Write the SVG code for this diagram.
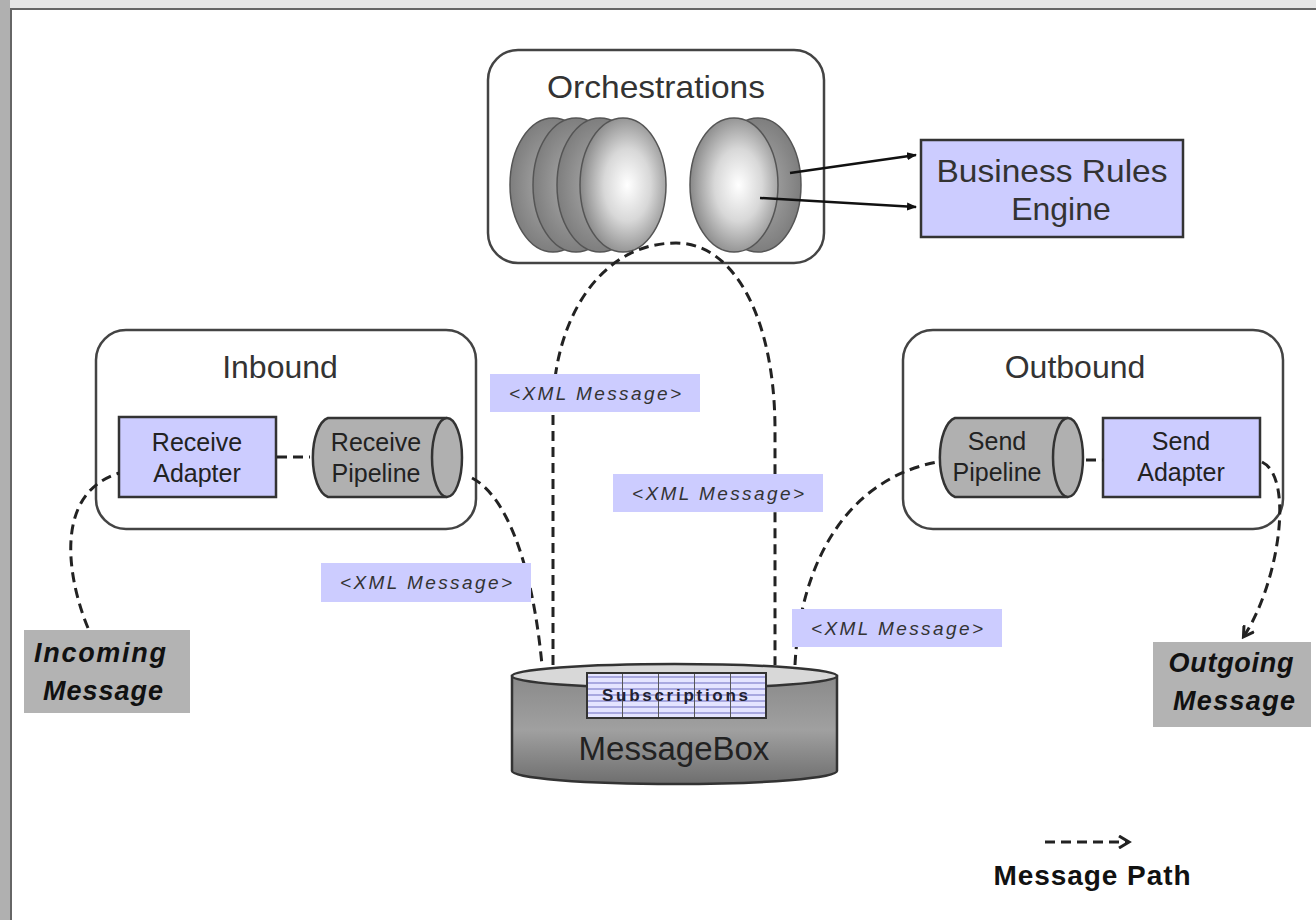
<svg xmlns="http://www.w3.org/2000/svg" width="1316" height="920" viewBox="0 0 1316 920">
  <defs>
    <radialGradient id="discFront" cx="0.55" cy="0.5" r="0.6">
      <stop offset="0" stop-color="#ffffff"/>
      <stop offset="0.45" stop-color="#d8d8d8"/>
      <stop offset="1" stop-color="#7a7a7a"/>
    </radialGradient>
    <radialGradient id="discBack" cx="0.5" cy="0.5" r="0.6">
      <stop offset="0" stop-color="#b0b0b0"/>
      <stop offset="1" stop-color="#747474"/>
    </radialGradient>
    <linearGradient id="boxBody" x1="0" y1="0" x2="0" y2="1">
      <stop offset="0" stop-color="#8a8a8a"/>
      <stop offset="0.5" stop-color="#a0a0a0"/>
      <stop offset="1" stop-color="#6e6e6e"/>
    </linearGradient>
    <pattern id="grid" x="587" y="673" width="36" height="6" patternUnits="userSpaceOnUse">
      <rect width="36" height="6" fill="#e4e4ff"/>
      <rect y="3" width="36" height="2" fill="#a8a8e0"/>
      <rect x="35" width="1.5" height="6" fill="#555"/>
    </pattern>
    <marker id="solidHead" markerWidth="10" markerHeight="10" refX="9" refY="5" orient="auto" markerUnits="userSpaceOnUse">
      <path d="M0,1 L10,5 L0,9 z" fill="#111"/>
    </marker>
    <marker id="openHead" markerWidth="14" markerHeight="14" refX="10" refY="7" orient="auto" markerUnits="userSpaceOnUse">
      <path d="M1,1 L11,7 L1,13" fill="none" stroke="#222" stroke-width="3"/>
    </marker>
  </defs>
  <style>
    .group { fill: #ffffff; stroke: #444; stroke-width: 2.5; }
    .title { font-family: "Liberation Sans", Arial, sans-serif; font-size: 32px; fill: #333; text-anchor: middle; }
    .lilac { fill: #ccccff; stroke: #333; stroke-width: 2.5; }
    .pipe { fill: #b0b0b0; stroke: #333; stroke-width: 2.5; }
    .label { font-family: "Liberation Sans", Arial, sans-serif; font-size: 25px; fill: #222; text-anchor: middle; }
    .tag { fill: #ccccff; }
    .tagtext { font-family: "Liberation Sans", Arial, sans-serif; font-size: 19px; font-style: italic; fill: #333; text-anchor: middle; }
    .msgbox { fill: #b3b3b3; }
    .msgtext { font-family: "Liberation Sans", Arial, sans-serif; font-size: 27px; font-weight: bold; font-style: italic; fill: #111; text-anchor: middle; }
    .path { fill: none; stroke: #222; stroke-width: 3; stroke-dasharray: 10 6; }
    .solid { fill: none; stroke: #111; stroke-width: 2.5; }
  </style>

  <!-- page frame -->
  <rect x="0" y="0" width="1316" height="920" fill="#ffffff"/>
  <rect x="0" y="0" width="1316" height="8" fill="#e6e6e6"/>
  <rect x="0" y="0" width="10" height="920" fill="#b0b0b0"/>
  <line x1="10" y1="9" x2="1316" y2="9" stroke="#666" stroke-width="2"/>
  <line x1="11" y1="9" x2="11" y2="920" stroke="#666" stroke-width="2"/>

  <!-- Orchestrations -->
  <g id="orchestrations">
    <rect class="group" x="488" y="50" width="336" height="213" rx="30"/>
    <text class="title" x="656" y="98" textLength="218" lengthAdjust="spacingAndGlyphs">Orchestrations</text>
    <ellipse cx="553" cy="185" rx="43" ry="67" fill="url(#discBack)" stroke="#555" stroke-width="1.5"/>
    <ellipse cx="576" cy="185" rx="43" ry="67" fill="url(#discBack)" stroke="#555" stroke-width="1.5"/>
    <ellipse cx="600" cy="185" rx="43" ry="67" fill="url(#discBack)" stroke="#555" stroke-width="1.5"/>
    <ellipse cx="623" cy="185" rx="43" ry="67" fill="url(#discFront)" stroke="#555" stroke-width="1.5"/>
    <ellipse cx="758" cy="185" rx="43" ry="67" fill="url(#discBack)" stroke="#555" stroke-width="1.5"/>
    <ellipse cx="734" cy="185" rx="44" ry="67" fill="url(#discFront)" stroke="#555" stroke-width="1.5"/>
  </g>

  <!-- Business Rules Engine -->
  <g id="rules-engine">
    <rect class="lilac" x="921" y="140" width="262" height="97"/>
    <text class="title" x="1052" y="182" textLength="231" lengthAdjust="spacingAndGlyphs">Business Rules</text>
    <text class="title" x="1061" y="220">Engine</text>
  </g>

  <!-- Inbound -->
  <g id="inbound">
    <rect class="group" x="96" y="330" width="380" height="199" rx="30"/>
    <text class="title" x="280" y="378">Inbound</text>
  </g>
  <g id="receive-adapter">
    <rect class="lilac" x="119" y="417" width="157" height="80"/>
    <text class="label" x="197" y="451">Receive</text>
    <text class="label" x="197" y="482">Adapter</text>
  </g>
  <g id="receive-pipeline">
    <path class="pipe" d="M447 418 L328 418 A18 40 0 0 0 328 497 L447 497"/>
    <ellipse class="pipe" cx="447" cy="457.5" rx="15" ry="39.5" fill="#c8c8c8"/>
    <text class="label" x="376" y="451">Receive</text>
    <text class="label" x="376" y="482">Pipeline</text>
  </g>

  <!-- Outbound -->
  <g id="outbound">
    <rect class="group" x="903" y="330" width="380" height="199" rx="30"/>
    <text class="title" x="1075" y="378">Outbound</text>
  </g>
  <g id="send-pipeline">
    <path class="pipe" d="M1068 418 L955 418 A18 40 0 0 0 955 497 L1068 497"/>
    <ellipse class="pipe" cx="1068" cy="457.5" rx="15" ry="39.5" fill="#c8c8c8"/>
    <text class="label" x="997" y="450">Send</text>
    <text class="label" x="997" y="481">Pipeline</text>
  </g>
  <g id="send-adapter">
    <rect class="lilac" x="1103" y="418" width="157" height="79"/>
    <text class="label" x="1181" y="450">Send</text>
    <text class="label" x="1181" y="481">Adapter</text>
  </g>

  <!-- connectors -->
  <g id="connectors">
    <line class="solid" x1="790" y1="173" x2="916" y2="155" marker-end="url(#solidHead)"/>
    <line class="solid" x1="760" y1="198" x2="916" y2="207" marker-end="url(#solidHead)"/>
    <line class="path" x1="277" y1="457" x2="310" y2="457"/>
    <line class="path" x1="1086" y1="460" x2="1103" y2="460"/>
    <path class="path" d="M88 628 C70 585 50 495 119 473"/>
    <path class="path" d="M472 478 C505 495 532 560 542 665"/>
    <path class="path" d="M553 665 L553 410 C553 320 600 243 676 243 C735 243 775 320 775 430 L775 665"/>
    <path class="path" d="M795 665 C800 565 845 480 937 462"/>
    <path class="path" d="M1262 462 C1295 478 1278 585 1244 636" marker-end="url(#openHead)"/>
  </g>

  <!-- message tags -->
  <g id="tag-1">
    <rect class="tag" x="490" y="374" width="210" height="38"/>
    <text class="tagtext" x="595" y="400" textLength="172" lengthAdjust="spacing">&lt;XML Message&gt;</text>
  </g>
  <g id="tag-2">
    <rect class="tag" x="613" y="474" width="210" height="38"/>
    <text class="tagtext" x="718" y="500" textLength="172" lengthAdjust="spacing">&lt;XML Message&gt;</text>
  </g>
  <g id="tag-3">
    <rect class="tag" x="321" y="563" width="210" height="39"/>
    <text class="tagtext" x="426" y="589" textLength="172" lengthAdjust="spacing">&lt;XML Message&gt;</text>
  </g>
  <g id="tag-4">
    <rect class="tag" x="792" y="609" width="210" height="38"/>
    <text class="tagtext" x="897" y="635" textLength="172" lengthAdjust="spacing">&lt;XML Message&gt;</text>
  </g>

  <!-- MessageBox -->
  <g id="messagebox">
    <path d="M512 676 L512 771 A162.5 13 0 0 0 837 771 L837 676 z" fill="url(#boxBody)" stroke="#333" stroke-width="2.5"/>
    <ellipse cx="674.5" cy="676" rx="162.5" ry="12" fill="#d8d8d8" stroke="#333" stroke-width="2.5"/>
    <rect x="587" y="673" width="179" height="45" fill="url(#grid)" stroke="#333" stroke-width="2"/>
    <text x="675" y="701" font-family="'Liberation Sans', Arial, sans-serif" font-size="17" font-weight="bold" fill="#223" text-anchor="middle" textLength="146" lengthAdjust="spacing">Subscriptions</text>
    <text x="674" y="760" font-family="'Liberation Sans', Arial, sans-serif" font-size="33" fill="#222" text-anchor="middle">MessageBox</text>
  </g>

  <!-- Incoming / Outgoing -->
  <g id="incoming">
    <rect class="msgbox" x="24" y="630" width="166" height="83"/>
    <text class="msgtext" x="100" y="662" textLength="132" lengthAdjust="spacing">Incoming</text>
    <text class="msgtext" x="103" y="700" textLength="120" lengthAdjust="spacing">Message</text>
  </g>
  <g id="outgoing">
    <rect class="msgbox" x="1153" y="642" width="158" height="85"/>
    <text class="msgtext" x="1231" y="672" textLength="125" lengthAdjust="spacing">Outgoing</text>
    <text class="msgtext" x="1234" y="710" textLength="122" lengthAdjust="spacing">Message</text>
  </g>

  <!-- legend -->
  <g id="legend">
    <line x1="1045" y1="842" x2="1128" y2="842" stroke="#222" stroke-width="3" stroke-dasharray="10 6" marker-end="url(#openHead)"/>
    <text x="1092" y="885" font-family="'Liberation Sans', Arial, sans-serif" font-size="28" font-weight="bold" fill="#111" text-anchor="middle" textLength="197" lengthAdjust="spacing">Message Path</text>
  </g>
</svg>
